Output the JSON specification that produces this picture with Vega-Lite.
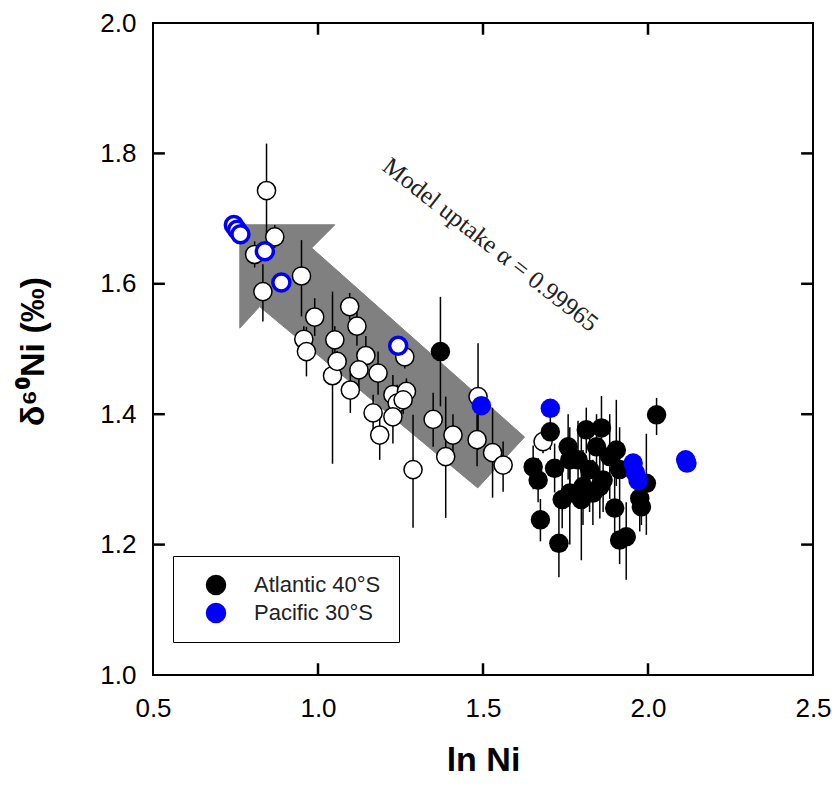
{
  "$schema": "https://vega.github.io/schema/vega-lite/v6.json",
  "width": 660,
  "height": 652,
  "autosize": "none",
  "padding": {"left": 153, "top": 23, "right": 19, "bottom": 115},
  "background": "white",
  "config": {
    "view": {"stroke": "black", "strokeWidth": 2},
    "axis": {
      "grid": false, "domain": false, "ticks": false,
      "labelFont": "Liberation Sans", "labelFontSize": 26, "labelColor": "black",
      "labelFlush": false, "labelOverlap": false, "labelBound": false,
      "titleFont": "Liberation Sans, Noto Sans, DejaVu Sans", "titleFontSize": 34, "titleFontWeight": "bold", "titleColor": "black"
    }
  },
  "datasets": {
    "arrow": [
      {"i": 1, "x": 0.763, "y": 1.6905},
      {"i": 2, "x": 1.051, "y": 1.6905},
      {"i": 3, "x": 0.981, "y": 1.655},
      {"i": 4, "x": 1.626, "y": 1.365},
      {"i": 5, "x": 1.484, "y": 1.287},
      {"i": 6, "x": 0.823, "y": 1.565},
      {"i": 7, "x": 0.763, "y": 1.532},
      {"i": 8, "x": 0.763, "y": 1.6905}
    ],
    "xticks": [
      {"tx": 1.0, "ta": 1.0, "tb": 1.018}, {"tx": 1.5, "ta": 1.0, "tb": 1.018}, {"tx": 2.0, "ta": 1.0, "tb": 1.018},
      {"tx": 1.0, "ta": 2.0, "tb": 1.982}, {"tx": 1.5, "ta": 2.0, "tb": 1.982}, {"tx": 2.0, "ta": 2.0, "tb": 1.982}
    ],
    "yticks": [
      {"ty": 1.2, "ta": 0.5, "tb": 0.536}, {"ty": 1.4, "ta": 0.5, "tb": 0.536}, {"ty": 1.6, "ta": 0.5, "tb": 0.536}, {"ty": 1.8, "ta": 0.5, "tb": 0.536},
      {"ty": 1.2, "ta": 2.5, "tb": 2.464}, {"ty": 1.4, "ta": 2.5, "tb": 2.464}, {"ty": 1.6, "ta": 2.5, "tb": 2.464}, {"ty": 1.8, "ta": 2.5, "tb": 2.464}
    ],
    "label": [{"x": 1.523, "y": 1.660, "t": "Model uptake α = 0.99965"}],
    "pts": [
      {"g": "w", "x": 0.844, "y": 1.743, "lo": 1.671, "hi": 1.815},
      {"g": "w", "x": 0.869, "y": 1.672, "lo": 1.655, "hi": 1.690},
      {"g": "w", "x": 0.808, "y": 1.645, "lo": 1.625, "hi": 1.665},
      {"g": "w", "x": 0.833, "y": 1.588, "lo": 1.542, "hi": 1.630},
      {"g": "w", "x": 0.950, "y": 1.612, "lo": 1.550, "hi": 1.667},
      {"g": "w", "x": 0.990, "y": 1.549, "lo": 1.520, "hi": 1.578},
      {"g": "w", "x": 0.957, "y": 1.515, "lo": 1.495, "hi": 1.535},
      {"g": "w", "x": 0.965, "y": 1.496, "lo": 1.458, "hi": 1.534},
      {"g": "w", "x": 1.051, "y": 1.514, "lo": 1.495, "hi": 1.535},
      {"g": "w", "x": 1.044, "y": 1.459, "lo": 1.324, "hi": 1.588},
      {"g": "w", "x": 1.058, "y": 1.481, "lo": 1.465, "hi": 1.497},
      {"g": "w", "x": 1.096, "y": 1.565, "lo": 1.545, "hi": 1.586},
      {"g": "w", "x": 1.118, "y": 1.535, "lo": 1.505, "hi": 1.560},
      {"g": "w", "x": 1.145, "y": 1.490, "lo": 1.460, "hi": 1.520},
      {"g": "w", "x": 1.124, "y": 1.468, "lo": 1.440, "hi": 1.495},
      {"g": "w", "x": 1.098, "y": 1.437, "lo": 1.402, "hi": 1.470},
      {"g": "w", "x": 1.182, "y": 1.463, "lo": 1.430, "hi": 1.496},
      {"g": "w", "x": 1.167, "y": 1.402, "lo": 1.375, "hi": 1.430},
      {"g": "w", "x": 1.187, "y": 1.368, "lo": 1.330, "hi": 1.405},
      {"g": "w", "x": 1.227, "y": 1.430, "lo": 1.400, "hi": 1.460},
      {"g": "w", "x": 1.240, "y": 1.417, "lo": 1.390, "hi": 1.445},
      {"g": "w", "x": 1.227, "y": 1.396, "lo": 1.355, "hi": 1.435},
      {"g": "w", "x": 1.263, "y": 1.488, "lo": 1.470, "hi": 1.505},
      {"g": "w", "x": 1.268, "y": 1.435, "lo": 1.415, "hi": 1.455},
      {"g": "w", "x": 1.258, "y": 1.422, "lo": 1.400, "hi": 1.445},
      {"g": "w", "x": 1.288, "y": 1.315, "lo": 1.226, "hi": 1.399},
      {"g": "w", "x": 1.349, "y": 1.392, "lo": 1.350, "hi": 1.433},
      {"g": "w", "x": 1.409, "y": 1.368, "lo": 1.335, "hi": 1.400},
      {"g": "w", "x": 1.387, "y": 1.335, "lo": 1.241, "hi": 1.427},
      {"g": "w", "x": 1.485, "y": 1.427, "lo": 1.345, "hi": 1.509},
      {"g": "w", "x": 1.482, "y": 1.361, "lo": 1.320, "hi": 1.400},
      {"g": "w", "x": 1.529, "y": 1.341, "lo": 1.272, "hi": 1.410},
      {"g": "w", "x": 1.561, "y": 1.322, "lo": 1.281, "hi": 1.358},
      {"g": "w", "x": 1.682, "y": 1.358, "lo": 1.340, "hi": 1.376},
      {"g": "bo", "x": 0.745, "y": 1.690, "lo": 1.680, "hi": 1.700},
      {"g": "bo", "x": 0.755, "y": 1.683, "lo": 1.673, "hi": 1.693},
      {"g": "bo", "x": 0.765, "y": 1.676, "lo": 1.662, "hi": 1.690},
      {"g": "bo", "x": 0.839, "y": 1.650, "lo": 1.640, "hi": 1.660},
      {"g": "bo", "x": 0.889, "y": 1.602, "lo": 1.590, "hi": 1.614},
      {"g": "bo", "x": 1.243, "y": 1.505, "lo": 1.490, "hi": 1.520},
      {"g": "Atlantic 40°S", "x": 1.371, "y": 1.496, "lo": 1.412, "hi": 1.580},
      {"g": "Atlantic 40°S", "x": 1.704, "y": 1.373, "lo": 1.345, "hi": 1.400},
      {"g": "Atlantic 40°S", "x": 2.026, "y": 1.399, "lo": 1.368, "hi": 1.425},
      {"g": "Atlantic 40°S", "x": 1.652, "y": 1.319, "lo": 1.285, "hi": 1.352},
      {"g": "Atlantic 40°S", "x": 1.667, "y": 1.299, "lo": 1.265, "hi": 1.333},
      {"g": "Atlantic 40°S", "x": 1.674, "y": 1.238, "lo": 1.205, "hi": 1.270},
      {"g": "Atlantic 40°S", "x": 1.730, "y": 1.202, "lo": 1.150, "hi": 1.262},
      {"g": "Atlantic 40°S", "x": 1.758, "y": 1.350, "lo": 1.300, "hi": 1.400},
      {"g": "Atlantic 40°S", "x": 1.717, "y": 1.317, "lo": 1.280, "hi": 1.355},
      {"g": "Atlantic 40°S", "x": 1.740, "y": 1.269, "lo": 1.225, "hi": 1.315},
      {"g": "Atlantic 40°S", "x": 1.813, "y": 1.376, "lo": 1.340, "hi": 1.410},
      {"g": "Atlantic 40°S", "x": 1.859, "y": 1.379, "lo": 1.330, "hi": 1.428},
      {"g": "Atlantic 40°S", "x": 1.788, "y": 1.330, "lo": 1.270, "hi": 1.390},
      {"g": "Atlantic 40°S", "x": 1.823, "y": 1.315, "lo": 1.250, "hi": 1.380},
      {"g": "Atlantic 40°S", "x": 1.803, "y": 1.289, "lo": 1.230, "hi": 1.345},
      {"g": "Atlantic 40°S", "x": 1.798, "y": 1.269, "lo": 1.176, "hi": 1.368},
      {"g": "Atlantic 40°S", "x": 1.854, "y": 1.289, "lo": 1.240, "hi": 1.340},
      {"g": "Atlantic 40°S", "x": 1.884, "y": 1.335, "lo": 1.270, "hi": 1.400},
      {"g": "Atlantic 40°S", "x": 1.904, "y": 1.345, "lo": 1.290, "hi": 1.422},
      {"g": "Atlantic 40°S", "x": 1.914, "y": 1.315, "lo": 1.250, "hi": 1.380},
      {"g": "Atlantic 40°S", "x": 1.899, "y": 1.256, "lo": 1.200, "hi": 1.310},
      {"g": "Atlantic 40°S", "x": 1.914, "y": 1.207, "lo": 1.170, "hi": 1.245},
      {"g": "Atlantic 40°S", "x": 1.934, "y": 1.212, "lo": 1.146, "hi": 1.265},
      {"g": "Atlantic 40°S", "x": 1.995, "y": 1.294, "lo": 1.215, "hi": 1.370},
      {"g": "Atlantic 40°S", "x": 1.975, "y": 1.271, "lo": 1.220, "hi": 1.320},
      {"g": "Atlantic 40°S", "x": 1.980, "y": 1.258, "lo": 1.230, "hi": 1.290},
      {"g": "Atlantic 40°S", "x": 1.763, "y": 1.279, "lo": 1.200, "hi": 1.355},
      {"g": "Atlantic 40°S", "x": 1.833, "y": 1.279, "lo": 1.230, "hi": 1.330},
      {"g": "Atlantic 40°S", "x": 1.864, "y": 1.299, "lo": 1.250, "hi": 1.350},
      {"g": "Atlantic 40°S", "x": 1.844, "y": 1.350, "lo": 1.300, "hi": 1.400},
      {"g": "Atlantic 40°S", "x": 1.763, "y": 1.330, "lo": 1.280, "hi": 1.380},
      {"g": "Pacific 30°S", "x": 1.495, "y": 1.413, "lo": 1.400, "hi": 1.425},
      {"g": "Pacific 30°S", "x": 1.704, "y": 1.409, "lo": 1.395, "hi": 1.422},
      {"g": "Pacific 30°S", "x": 1.955, "y": 1.325, "lo": 1.312, "hi": 1.338},
      {"g": "Pacific 30°S", "x": 1.962, "y": 1.310, "lo": 1.297, "hi": 1.323},
      {"g": "Pacific 30°S", "x": 1.970, "y": 1.298, "lo": 1.285, "hi": 1.311},
      {"g": "Pacific 30°S", "x": 2.114, "y": 1.330, "lo": 1.317, "hi": 1.342},
      {"g": "Pacific 30°S", "x": 2.118, "y": 1.325, "lo": 1.312, "hi": 1.338}
    ]
  },
  "layer": [
    {
      "data": {"name": "arrow"},
      "mark": {"type": "line", "fill": "#808080", "stroke": "#808080", "strokeWidth": 1, "interpolate": "linear"},
      "encoding": {
        "x": {"field": "x", "type": "quantitative", "scale": {"domain": [0.5, 2.5], "nice": false, "zero": false},
              "axis": {"title": "ln Ni", "values": [0.5, 1, 1.5, 2, 2.5], "format": ".1f", "labelPadding": 20,
                       "titleX": 330, "titleY": 85, "titleBaseline": "middle", "titleAnchor": "middle", "titleAlign": "center"}},
        "y": {"field": "y", "type": "quantitative", "scale": {"domain": [1, 2], "nice": false, "zero": false},
              "axis": {"title": "δ⁶⁰Ni (‰)", "values": [1, 1.2, 1.4, 1.6, 1.8, 2.0], "format": ".1f", "labelPadding": 17,
                       "titleX": -120, "titleY": 328, "titleAngle": -90, "titleBaseline": "middle", "titleAlign": "center", "titleAnchor": "middle"}},
        "order": {"field": "i", "type": "quantitative"}
      }
    },
    {
      "data": {"name": "xticks"},
      "mark": {"type": "rule", "color": "black", "strokeWidth": 2.5},
      "encoding": {
        "x": {"field": "tx", "type": "quantitative"},
        "y": {"field": "ta", "type": "quantitative"},
        "y2": {"field": "tb"}
      }
    },
    {
      "data": {"name": "yticks"},
      "mark": {"type": "rule", "color": "black", "strokeWidth": 2.5},
      "encoding": {
        "y": {"field": "ty", "type": "quantitative"},
        "x": {"field": "ta", "type": "quantitative"},
        "x2": {"field": "tb"}
      }
    },
    {
      "data": {"name": "pts"},
      "mark": {"type": "rule", "color": "black", "strokeWidth": 1.5},
      "encoding": {
        "x": {"field": "x", "type": "quantitative"},
        "y": {"field": "lo", "type": "quantitative"},
        "y2": {"field": "hi"}
      }
    },
    {
      "data": {"name": "pts"},
      "transform": [{"filter": "datum.g == 'w'"}],
      "mark": {"type": "point", "shape": "circle", "filled": true, "fill": "white", "stroke": "black", "strokeWidth": 1.5, "size": 330, "opacity": 1},
      "encoding": {
        "x": {"field": "x", "type": "quantitative"},
        "y": {"field": "y", "type": "quantitative"}
      }
    },
    {
      "data": {"name": "pts"},
      "transform": [{"filter": "datum.g == 'bo'"}],
      "mark": {"type": "point", "shape": "circle", "filled": true, "fill": "white", "stroke": "#0000ee", "strokeWidth": 3.5, "size": 290, "opacity": 1},
      "encoding": {
        "x": {"field": "x", "type": "quantitative"},
        "y": {"field": "y", "type": "quantitative"}
      }
    },
    {
      "data": {"name": "pts"},
      "transform": [{"filter": "datum.g == 'Atlantic 40°S' || datum.g == 'Pacific 30°S'"}],
      "mark": {"type": "point", "shape": "circle", "filled": true, "size": 380, "opacity": 1, "strokeWidth": 0},
      "encoding": {
        "x": {"field": "x", "type": "quantitative"},
        "y": {"field": "y", "type": "quantitative"},
        "color": {"field": "g", "type": "nominal",
                  "scale": {"domain": ["Atlantic 40°S", "Pacific 30°S"], "range": ["#000000", "#0000ff"]},
                  "legend": {"title": null, "orient": "none", "legendX": 20, "legendY": 533,
                             "strokeColor": "black", "fillColor": "white", "padding": 18,
                             "symbolSize": 420, "symbolType": "circle", "symbolOffset": 14, "symbolStrokeWidth": 0,
                             "labelFont": "Liberation Sans", "labelFontSize": 22, "labelColor": "#222222",
                             "labelOffset": 27, "rowPadding": 6, "labelLimit": 300}}
      }
    },
    {
      "data": {"name": "label"},
      "mark": {"type": "text", "font": "Liberation Serif", "fontSize": 25, "angle": 38, "align": "center", "baseline": "middle", "color": "#222222"},
      "encoding": {
        "x": {"field": "x", "type": "quantitative"},
        "y": {"field": "y", "type": "quantitative"},
        "text": {"field": "t"}
      }
    }
  ]
}
